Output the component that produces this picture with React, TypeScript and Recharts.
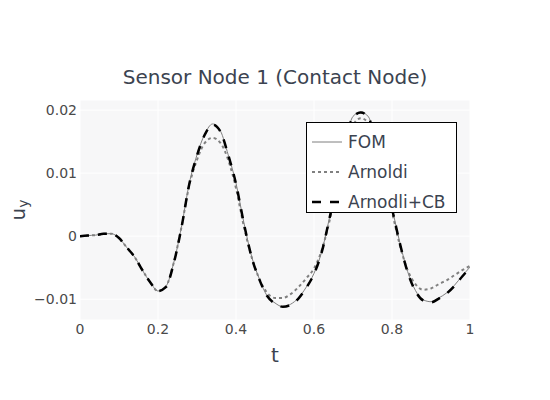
import React from "react";
import { LineChart, Line, XAxis, YAxis, CartesianGrid, Legend, Label } from "recharts";

const tValues = [0, 0.02, 0.04, 0.06, 0.08, 0.1, 0.12, 0.14, 0.16, 0.18, 0.2, 0.22, 0.24, 0.26, 0.28, 0.3, 0.32, 0.34, 0.36, 0.38, 0.4, 0.42, 0.44, 0.46, 0.48, 0.5, 0.52, 0.54, 0.56, 0.58, 0.6, 0.62, 0.64, 0.66, 0.68, 0.7, 0.72, 0.74, 0.76, 0.78, 0.8, 0.82, 0.84, 0.86, 0.88, 0.9, 0.92, 0.94, 0.96, 0.98, 1.0];

const fom = [0, 0.0001, 0.00016, 0.00037, 0.0004, -0.0003, -0.0018, -0.0033, -0.0054, -0.0073, -0.0087, -0.008, -0.0043, 0.0014, 0.0083, 0.0129, 0.0162, 0.0178, 0.0167, 0.0129, 0.0084, 0.0022, -0.0032, -0.0068, -0.0095, -0.0106, -0.0112, -0.0108, -0.0098, -0.0081, -0.0059, -0.0024, 0.003, 0.0086, 0.0148, 0.019, 0.0197, 0.0189, 0.0141, 0.0086, 0.0044, -0.001, -0.0056, -0.0086, -0.0101, -0.0104, -0.0098, -0.009, -0.0078, -0.0063, -0.0049];

const arnoldi = [0, 0.0001, 0.00016, 0.00037, 0.0004, -0.0003, -0.0018, -0.0033, -0.0054, -0.0073, -0.0087, -0.008, -0.0043, 0.0014, 0.008, 0.0121, 0.0148, 0.0156, 0.0148, 0.0121, 0.0076, 0.0016, -0.0033, -0.0068, -0.009, -0.0098, -0.0098, -0.0092, -0.0081, -0.0067, -0.0051, -0.0022, 0.0025, 0.0081, 0.0137, 0.0176, 0.0187, 0.0179, 0.0137, 0.0084, 0.0038, -0.0014, -0.0054, -0.0076, -0.0085, -0.0083, -0.0076, -0.007, -0.0062, -0.0054, -0.0047];

const arnoldiCB = [0, 0.0001, 0.00016, 0.00037, 0.0004, -0.0003, -0.0018, -0.0033, -0.0054, -0.0073, -0.0087, -0.0081, -0.0044, 0.0013, 0.0082, 0.0128, 0.0161, 0.0177, 0.0166, 0.0129, 0.0083, 0.0021, -0.0033, -0.0069, -0.0095, -0.0107, -0.0112, -0.0109, -0.0099, -0.0082, -0.006, -0.0025, 0.0029, 0.0085, 0.0147, 0.0189, 0.0196, 0.0188, 0.0141, 0.0086, 0.0043, -0.0011, -0.0057, -0.0087, -0.0102, -0.0105, -0.0099, -0.0091, -0.0079, -0.0064, -0.005];

const xTicks = [0, 0.2, 0.4, 0.6, 0.8, 1];
const yTicks = [-0.01, 0, 0.01, 0.02];
const seriesNames = ["FOM", "Arnoldi", "Arnodli+CB"];

const data = tValues.map((t, i) => ({ t, fom: fom[i], arnoldi: arnoldi[i], cb: arnoldiCB[i] }));

const FONT = '"DejaVu Sans", Verdana, sans-serif';
const TXT = "#3b4350";
const TICK = "#4a4a4a";

const fmtY = (v: number) => {
  if (v === 0) return "0";
  const s = Math.abs(v).toString();
  return v < 0 ? "\u2212" + s : s;
};
const fmtX = (v: number) => (v === 0 ? "0" : v === 1 ? "1" : v.toString());

const legendStyles = [
  { stroke: "#7f7f7f", width: 1, dash: undefined as string | undefined },
  { stroke: "#808080", width: 2, dash: "3,3" },
  { stroke: "#000000", width: 2.5, dash: "9,9" },
];

const LegendBox = () => (
  <div
    style={{
      position: "relative",
      width: 149,
      height: 89,
      border: "1px solid #000",
      background: "#fff",
      fontFamily: FONT,
      fontSize: 17,
      color: TXT,
      boxSizing: "content-box",
    }}
  >
    {seriesNames.map((name, i) => (
      <div key={name} style={{ position: "absolute", left: 5, top: 6 + i * 30, height: 26, display: "flex", alignItems: "center", whiteSpace: "nowrap" }}>
        <svg width={36} height={10} style={{ display: "block" }}>
          <line x1={0} y1={5} x2={30} y2={5} stroke={legendStyles[i].stroke} strokeWidth={legendStyles[i].width} strokeDasharray={legendStyles[i].dash} />
        </svg>
        <span>{name}</span>
      </div>
    ))}
  </div>
);

const YLabel = () => {
  return (
    <text x={18} y={210} transform="rotate(-90 18 210)" textAnchor="middle" dominantBaseline="central" fill={TXT} fontFamily={FONT} fontSize={20}>
      u<tspan fontSize={14} dy={5}>y</tspan>
    </text>
  );
};

export default function App() {
  return (
    <div style={{ position: "absolute", left: 0, top: 0, width: 550, height: 400, background: "#fff" }}>
      <div
        style={{
          position: "absolute",
          left: 0,
          top: 65,
          width: 550,
          textAlign: "center",
          fontFamily: FONT,
          fontSize: 20,
          color: TXT,
          zIndex: 2,
        }}
      >
        Sensor Node 1 (Contact Node)
      </div>
      <LineChart width={550} height={400} data={data} margin={{ top: 100, right: 80, bottom: 50, left: 30 }}>
        <CartesianGrid stroke="#ffffff" fill="#f7f7f8" vertical={true} horizontal={true} />
        <XAxis
          dataKey="t"
          type="number"
          domain={[0, 1]}
          ticks={xTicks}
          tickFormatter={fmtX}
          axisLine={false}
          tickLine={false}
          tickSize={0}
          tickMargin={4}
          height={30}
          tick={{ fill: TICK, fontSize: 14, fontFamily: FONT }}
          allowDataOverflow
        >
          <Label value="t" position="insideBottom" offset={-12} fill={TXT} fontSize={20} fontFamily={FONT} />
        </XAxis>
        <YAxis
          type="number"
          domain={[-0.0133, 0.0216]}
          ticks={yTicks}
          tickFormatter={fmtY}
          axisLine={false}
          tickLine={false}
          tickSize={0}
          tickMargin={3}
          width={50}
          tick={{ fill: TICK, fontSize: 14, fontFamily: FONT }}
          allowDataOverflow
        >
          <Label content={<YLabel />} />
        </YAxis>
        <Line type="monotone" dataKey="fom" name="FOM" stroke="#7f7f7f" strokeWidth={1} dot={false} isAnimationActive={false} />
        <Line type="monotone" dataKey="arnoldi" name="Arnoldi" stroke="#808080" strokeWidth={2} strokeDasharray="3 3" dot={false} isAnimationActive={false} />
        <Line type="monotone" dataKey="cb" name="Arnodli+CB" stroke="#000000" strokeWidth={2.5} strokeDasharray="9 9" dot={false} isAnimationActive={false} />
        <Legend
          layout="horizontal"
          verticalAlign="middle"
          align="center"
          content={<LegendBox />}
          wrapperStyle={{ left: 306, top: 122, width: 151, height: 91 }}
        />
      </LineChart>
    </div>
  );
}
